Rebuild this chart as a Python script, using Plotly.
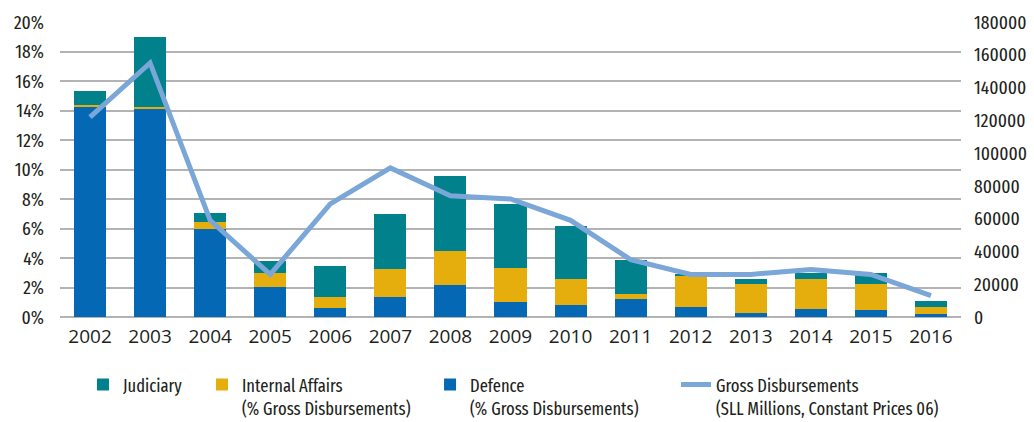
import plotly.graph_objects as go

years = ["2002", "2003", "2004", "2005", "2006", "2007", "2008", "2009",
         "2010", "2011", "2012", "2013", "2014", "2015", "2016"]

# Shares of gross disbursements (%)
defence = [14.25, 14.1, 6.0, 2.05, 0.6, 1.35, 2.2, 1.0, 0.8, 1.2, 0.7, 0.28, 0.55, 0.48, 0.2]
internal_affairs = [0.15, 0.15, 0.45, 0.95, 0.75, 1.9, 2.25, 2.3, 1.75, 0.35, 2.1, 1.97, 2.05, 1.77, 0.48]
judiciary = [0.95, 4.75, 0.6, 0.8, 2.1, 3.75, 5.1, 4.35, 3.6, 2.3, 0.1, 0.35, 0.4, 0.75, 0.4]

# Gross disbursements, SLL millions at constant 2006 prices
gross = [122000, 155000, 59000, 26000, 69000, 91000, 74000, 72000,
         59000, 35000, 26000, 26000, 29000, 26000, 13000]

left_ticks = [0, 2, 4, 6, 8, 10, 12, 14, 16, 18, 20]
left_tick_text = [f"{v}%" for v in left_ticks]
right_ticks = list(range(0, 180001, 20000))

COND = "Fira Sans Extra Condensed, Fira Sans Condensed, Roboto Condensed, Liberation Sans Narrow, Roboto, sans-serif"
REG = "Source Sans 3, Source Sans Pro, Fira Sans, Noto Sans, sans-serif"
TEXT = "#231f20"

fig = go.Figure()
fig.add_trace(go.Bar(x=years, y=defence, name="Defence<br>(% Gross Disbursements)",
                     marker=dict(color="#0468b4", line=dict(width=0)), legend="legend3"))
fig.add_trace(go.Bar(x=years, y=internal_affairs, name="Internal Affairs<br>(% Gross Disbursements)",
                     marker=dict(color="#e6ae0d", line=dict(width=0)), legend="legend2"))
fig.add_trace(go.Bar(x=years, y=judiciary, name="Judiciary",
                     marker=dict(color="#00818b", line=dict(width=0)), legend="legend"))
fig.add_trace(go.Scatter(x=years, y=gross, yaxis="y2", mode="lines",
                         name="Gross Disbursements<br>(SLL Millions, Constant Prices 06)",
                         line=dict(color="#7ba6d8", width=5), legend="legend4"))

leg_common = dict(orientation="v", yref="container", yanchor="top", y=0.132,
                  xanchor="left", bgcolor="rgba(0,0,0,0)", borderwidth=0, valign="top",
                  font=dict(family=COND, size=18, color=TEXT), itemwidth=30,
                  tracegroupgap=0)

fig.update_layout(
    width=1034, height=422,
    margin=dict(l=60, r=73, t=22, b=105, autoexpand=False),
    paper_bgcolor="white", plot_bgcolor="white",
    barmode="stack", bargap=0.467,
    font=dict(family=COND, size=19, color=TEXT),
    showlegend=True,
    legend=dict(x=0.0255, **leg_common),
    legend2=dict(x=0.1576, **leg_common),
    legend3=dict(x=0.4107, **leg_common),
    legend4=dict(x=0.6837, **leg_common),
    xaxis=dict(type="category", showgrid=False, showline=False, zeroline=False,
               ticks="", tickfont=dict(family=REG, size=19), ticklabelstandoff=6),
    yaxis=dict(range=[0, 20], tickvals=left_ticks, ticktext=left_tick_text,
               showgrid=True, gridcolor="#b3b3b3", gridwidth=1.5,
               zeroline=True, zerolinecolor="#b3b3b3", zerolinewidth=1.5,
               showline=False, ticks="", ticklabelstandoff=15,
               tickfont=dict(size=19)),
    yaxis2=dict(range=[0, 180000], tickvals=right_ticks, tickformat="d",
                overlaying="y", side="right",
                showgrid=False, zeroline=False, showline=False, ticks="",
                ticklabelstandoff=12, tickfont=dict(size=19)),
)

fig.write_html("out.html")
